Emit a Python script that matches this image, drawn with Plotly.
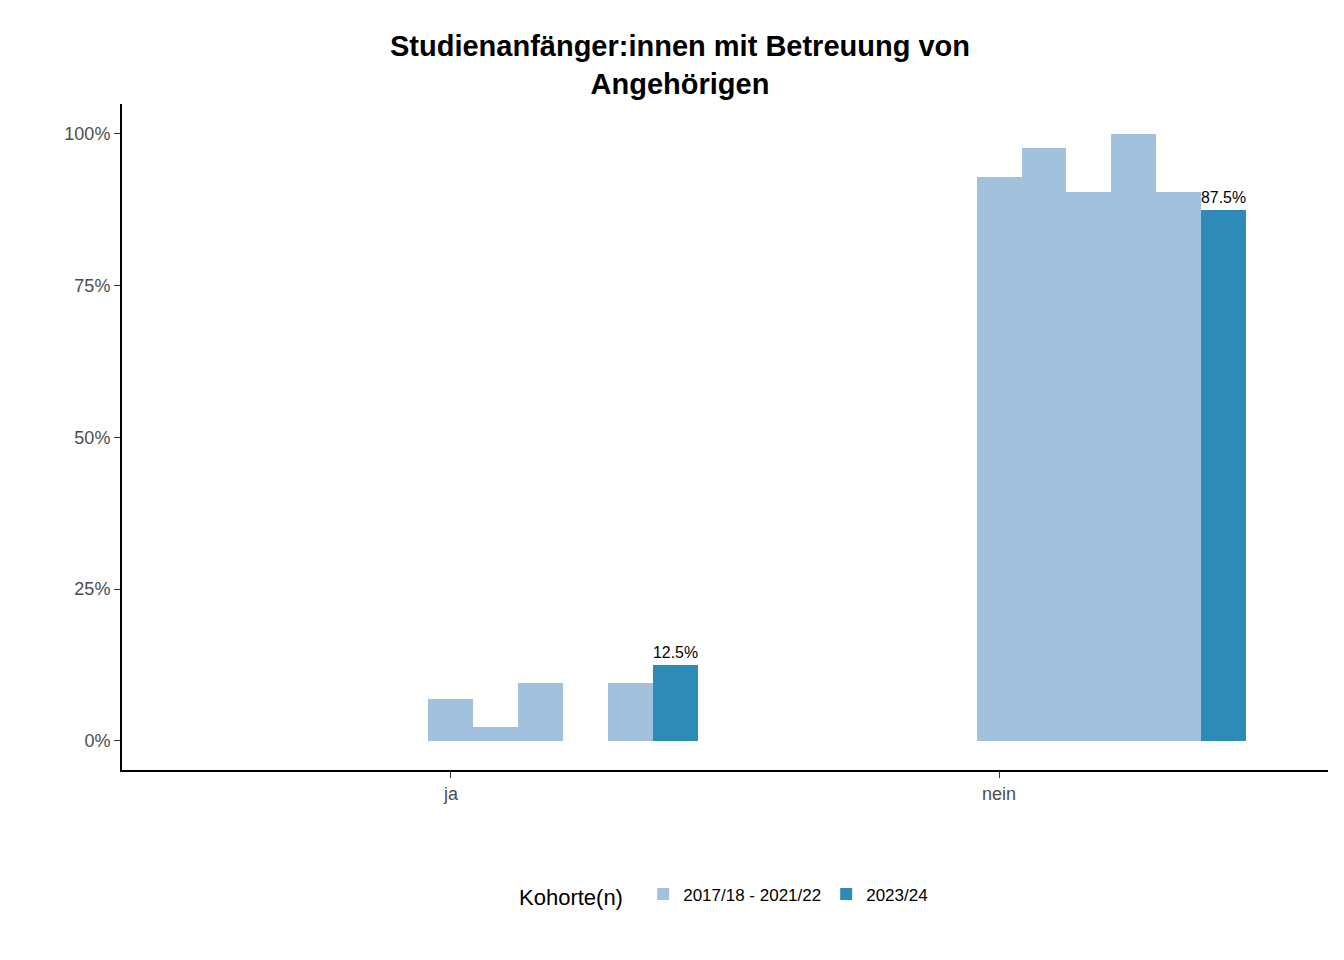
import plotly.graph_objects as go

categories = ["ja", "nein"]
n_slots = 11
# slot index within dodge group -> share (%) ; earlier slots empty
slots_old = [5, 6, 7, 8, 9]
ja_old = [6.9, 2.3, 9.6, None, 9.6]
nein_old = [92.9, 97.7, 90.4, 100.0, 90.4]
slot_new = 10
ja_new = 12.5
nein_new = 87.5

light = "#a1c1dd"
dark = "#2e8bb8"
w = 0.9 / n_slots


def xpos(cat_i, k):
    return cat_i - 0.45 + (k + 0.5) * w


fig = go.Figure()
for ci, vals in enumerate([ja_old, nein_old]):
    xs = [xpos(ci, k) for k, v in zip(slots_old, vals) if v is not None]
    ys = [v for v in vals if v is not None]
    fig.add_trace(go.Bar(x=xs, y=ys, width=w, marker_color=light, marker_line_width=0,
                         name="2017/18 - 2021/22", legendgroup="old", showlegend=(ci == 0)))
for ci, v in enumerate([ja_new, nein_new]):
    fig.add_trace(go.Bar(x=[xpos(ci, slot_new)], y=[v], width=w, marker_color=dark,
                         marker_line_width=0, name="2023/24", legendgroup="new",
                         showlegend=(ci == 0), text=[f"{v:.1f}%"], textposition="outside",
                         textfont=dict(size=17, color="black"), cliponaxis=False))

fig.update_layout(
    width=1344, height=960, plot_bgcolor="white", paper_bgcolor="white",
    font=dict(family="Liberation Sans, Arial", size=17, color="#4d4d4d"),
    title=dict(text="<b>Studienanfänger:innen mit Betreuung von<br>Angehörigen</b>",
               x=0.5, xanchor="center", y=0.95, font=dict(size=29, color="black")),
    margin=dict(l=114, r=24, t=96, b=198),
    barmode="overlay", bargap=0,
    legend=dict(orientation="h", x=0.5, xanchor="center", y=-0.16, yanchor="top",
                title=dict(text="Kohorte(n)  ", font=dict(size=22, color="black")),
                font=dict(size=17, color="black")),
)
fig.update_xaxes(range=[-0.6, 1.6], tickvals=[0, 1], ticktext=categories,
                 showline=True, linecolor="black", linewidth=2, ticks="outside",
                 tickcolor="#333", ticklen=6, showgrid=False, zeroline=False,
                 tickfont=dict(size=18))
fig.update_yaxes(range=[-4.8, 104.9], tickvals=[0, 25, 50, 75, 100],
                 ticktext=["0%", "25%", "50%", "75%", "100%"],
                 showline=True, linecolor="black", linewidth=2, ticks="outside",
                 tickcolor="#333", ticklen=6, showgrid=False, zeroline=False,
                 tickfont=dict(size=18))
fig.write_html("out.html")
